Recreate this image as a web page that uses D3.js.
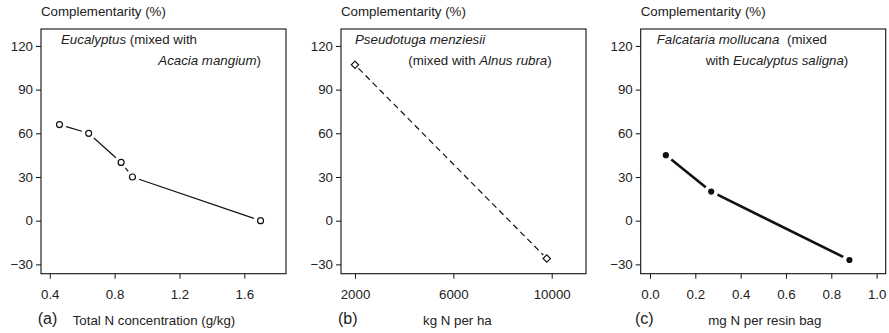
<!DOCTYPE html>
<html>
<head>
<meta charset="utf-8">
<script src="https://cdn.jsdelivr.net/npm/d3@7"></script>
<style>
  html, body { margin: 0; padding: 0; background: #fff; }
  svg { display: block; font-family: "Liberation Sans", Arial, sans-serif; }
  text { fill: #222; }
</style>
</head>
<body>
<svg id="chart" width="889" height="333"></svg>
<script>
// Panel (a): Eucalyptus mixed with Acacia mangium
const aX = [0.46, 0.64, 0.84, 0.91, 1.70];
const aY = [66, 60, 40, 30, 0];
const aTicks = [0.4, 0.8, 1.2, 1.6];

// Panel (b): Pseudotuga menziesii mixed with Alnus rubra
const bX = [2000, 9800];
const bY = [107, -26];
const bTicks = [2000, 6000, 10000];

// Panel (c): Falcataria mollucana mixed with Eucalyptus saligna
const cX = [0.07, 0.27, 0.88];
const cY = [45, 20, -27];
const cTicks = [0.0, 0.2, 0.4, 0.6, 0.8, 1.0];

const yTicks = [-30, 0, 30, 60, 90, 120];
const yTitle = "Complementarity (%)";

const FS = 13.3;
const svg = d3.select("#chart");
const plotTop = 29, plotBottom = 273.7;
const y = d3.scaleLinear().domain([-36.4, 131.6]).range([plotBottom, plotTop]);

const panels = [
  { left: 41, right: 286, domain: [0.346, 1.857], xs: aX, ys: aY, ticks: aTicks,
    fmt: d3.format(".1f"), tag: "(a)", tagX: 37.7, title: "Total N concentration (g/kg)", titleX: 72.7,
    style: "open" },
  { left: 341, right: 586, domain: [1431, 11395], xs: bX, ys: bY, ticks: bTicks,
    fmt: d3.format("d"), tag: "(b)", tagX: 338, title: "kg N per ha", titleX: 423,
    style: "diamond" },
  { left: 640.7, right: 885.7, domain: [-0.041, 1.04], xs: cX, ys: cY, ticks: cTicks,
    fmt: d3.format(".1f"), tag: "(c)", tagX: 635, title: "mg N per resin bag", titleX: 708.3,
    style: "filled" }
];

// Segment between two points, trimmed so it stops short of the markers
function trimmed(p, q, g) {
  const dx = q[0] - p[0], dy = q[1] - p[1];
  const L = Math.hypot(dx, dy);
  const ux = dx / L, uy = dy / L;
  return [[p[0] + ux * g, p[1] + uy * g], [q[0] - ux * g, q[1] - uy * g]];
}

const minus = d => d < 0 ? "\u2212" + Math.abs(d) : String(d);

panels.forEach(p => {
  const x = d3.scaleLinear().domain(p.domain).range([p.left, p.right]);
  const g = svg.append("g");

  // frame
  g.append("rect")
    .attr("x", p.left).attr("y", plotTop)
    .attr("width", p.right - p.left).attr("height", plotBottom - plotTop)
    .attr("fill", "none").attr("stroke", "#111").attr("stroke-width", 1.1);

  // y axis
  const ya = g.append("g").attr("transform", `translate(${p.left},0)`)
    .call(d3.axisLeft(y).tickValues(yTicks).tickSize(5).tickPadding(3).tickFormat(minus));
  ya.select(".domain").remove();
  ya.selectAll("line").attr("stroke", "#111");
  ya.selectAll("text").attr("font-size", FS).attr("font-family", "Liberation Sans, Arial, sans-serif").attr("fill", "#222");

  // x axis
  const xa = g.append("g").attr("transform", `translate(0,${plotBottom})`)
    .call(d3.axisBottom(x).tickValues(p.ticks).tickSize(5).tickPadding(11).tickFormat(p.fmt));
  xa.select(".domain").remove();
  xa.selectAll("line").attr("stroke", "#111");
  xa.selectAll("text").attr("font-size", FS).attr("font-family", "Liberation Sans, Arial, sans-serif").attr("fill", "#222");

  // y title
  g.append("text").attr("x", p.left).attr("y", 16).attr("font-size", FS).text(yTitle);

  // panel tag and x title
  g.append("text").attr("x", p.tagX).attr("y", 324).attr("font-size", 16).text(p.tag);
  g.append("text").attr("x", p.titleX).attr("y", 325).attr("font-size", FS).text(p.title);

  // data
  const pts = p.xs.map((v, i) => [x(v), y(p.ys[i])]);
  const line = d3.line();
  for (let i = 0; i < pts.length - 1; i++) {
    const gap = p.style === "diamond" ? 5 : 7;
    const seg = trimmed(pts[i], pts[i + 1], gap);
    const path = g.append("path").attr("d", line(seg)).attr("fill", "none").attr("stroke", "#111");
    if (p.style === "open") path.attr("stroke-width", 1.2);
    if (p.style === "diamond") path.attr("stroke-width", 1.2).attr("stroke-dasharray", "6,4");
    if (p.style === "filled") path.attr("stroke-width", 2.6);
  }
  pts.forEach(pt => {
    if (p.style === "open") {
      g.append("circle").attr("cx", pt[0]).attr("cy", pt[1]).attr("r", 3)
        .attr("fill", "#fff").attr("stroke", "#111").attr("stroke-width", 1.2);
    } else if (p.style === "diamond") {
      g.append("path").attr("d", d3.symbol(d3.symbolDiamond2, 34)())
        .attr("transform", `translate(${pt[0]},${pt[1]})`)
        .attr("fill", "#fff").attr("stroke", "#111").attr("stroke-width", 1.2);
    } else {
      g.append("circle").attr("cx", pt[0]).attr("cy", pt[1]).attr("r", 3.1).attr("fill", "#111");
    }
  });
});

// species captions
const cap = svg.append("g").attr("font-size", FS);
const t1 = cap.append("text").attr("x", 61).attr("y", 44);
t1.append("tspan").attr("font-style", "italic").text("Eucalyptus");
t1.append("tspan").text(" (mixed with");
const t2 = cap.append("text").attr("x", 261).attr("y", 65).attr("text-anchor", "end");
t2.append("tspan").attr("font-style", "italic").text("Acacia mangium");
t2.append("tspan").text(")");

cap.append("text").attr("x", 355).attr("y", 44).attr("font-style", "italic").text("Pseudotuga menziesii");
const t4 = cap.append("text").attr("x", 551.7).attr("y", 65).attr("text-anchor", "end");
t4.append("tspan").text("(mixed with ");
t4.append("tspan").attr("font-style", "italic").text("Alnus rubra");
t4.append("tspan").text(")");

const t5 = cap.append("text").attr("x", 656.7).attr("y", 44);
t5.append("tspan").attr("font-style", "italic").text("Falcataria mollucana");
t5.append("tspan").attr("dx", 4).text(" (mixed");
const t6 = cap.append("text").attr("x", 848.3).attr("y", 65).attr("text-anchor", "end");
t6.append("tspan").text("with ");
t6.append("tspan").attr("font-style", "italic").text("Eucalyptus saligna");
t6.append("tspan").text(")");
</script>
</body>
</html>
